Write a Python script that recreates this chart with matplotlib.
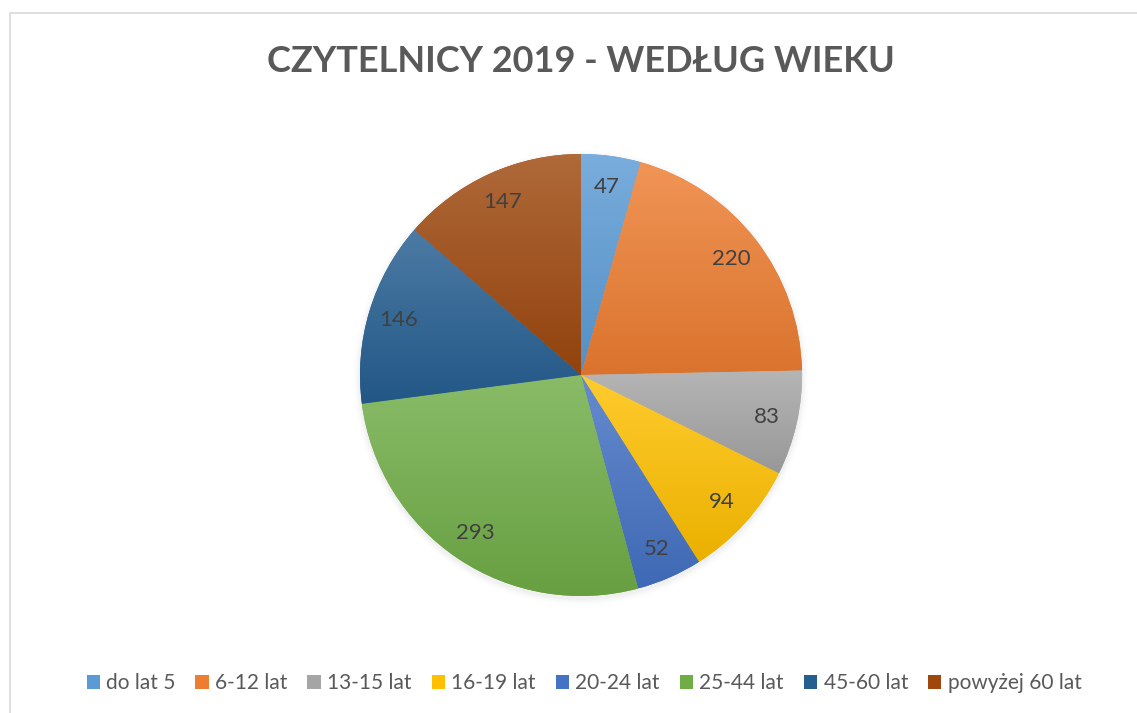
import numpy as np
import matplotlib
matplotlib.use("Agg")
import matplotlib.pyplot as plt
from matplotlib.patches import Patch
from matplotlib.lines import Line2D
from matplotlib.colors import to_rgb

categories = ["do lat 5", "6-12 lat", "13-15 lat", "16-19 lat", "20-24 lat",
              "25-44 lat", "45-60 lat", "powyżej 60 lat"]
values = [47, 220, 83, 94, 52, 293, 146, 147]
colors = ["#5B9BD5", "#ED7D31", "#A5A5A5", "#FFC000", "#4472C4",
          "#70AD47", "#255E91", "#9E480E"]
title = "CZYTELNICY 2019 - WEDŁUG WIEKU"

plt.rcParams['font.family'] = ['Lato', 'DejaVu Sans']

W, H = 1137, 713
fig = plt.figure(figsize=(W / 100, H / 100), dpi=100)
fig.patch.set_facecolor("white")

# frame (top & left visible)
fig.add_artist(Line2D([10 / W, 10 / W, 1], [0, 1 - 13 / H, 1 - 13 / H],
                      transform=fig.transFigure, color="#D9D9D9", lw=1.2))

cx, cy, R = 581, 375, 221
half = R * 1.2
ax = fig.add_axes([(cx - half) / W, (H - cy - half) / H, 2 * half / W, 2 * half / H])
ax.set_xlim(-1.2, 1.2)
ax.set_ylim(-1.2, 1.2)
ax.set_aspect("equal")
ax.axis("off")

# soft shadow
for i, a in enumerate(np.linspace(0.012, 0.003, 8)):
    r = 1.0 + 0.004 * (i + 1)
    circ = plt.Circle((0, -0.012), r, color="black", alpha=a, lw=0, zorder=0)
    ax.add_patch(circ)

wedges, texts = ax.pie(values, colors=colors, startangle=90, counterclock=False,
                       radius=1.0, labels=[str(v) for v in values],
                       labeldistance=0.86,
                       textprops=dict(color="#404040", fontsize=16),
                       wedgeprops=dict(linewidth=0))
ax.set_xlim(-1.2, 1.2)
ax.set_ylim(-1.2, 1.2)

def mix(c, t, f):
    c = np.array(to_rgb(c)); t = np.array(t)
    return c * (1 - f) + t * f

for w, c in zip(wedges, colors):
    ext = w.get_path().get_extents()
    top = mix(c, (1, 1, 1), 0.18)
    bot = mix(c, (0, 0, 0), 0.08)
    n = 256
    f = np.linspace(0, 1, n)[:, None]
    img = top[None, :] * (1 - f) + bot[None, :] * f
    img = img[:, None, :].repeat(2, axis=1)
    im = ax.imshow(img, extent=(ext.x0, ext.x1, ext.y0, ext.y1), origin="upper",
                   aspect="auto", zorder=w.get_zorder() + 0.1, interpolation="bilinear")
    im.set_clip_path(w)
for t in texts:
    t.set_zorder(5)
    t.set_ha("center"); t.set_va("center")

fig.text(581 / W, 1 - 62 / H, title, ha="center", va="center",
         fontsize=26, fontweight="bold", color="#595959")

handles = [Patch(facecolor=c, edgecolor="none") for c in colors]
fig.legend(handles, categories, loc="center", bbox_to_anchor=(584 / W, 1 - 683 / H),
           ncol=8, frameon=False, fontsize=15, labelcolor="#595959",
           handlelength=0.65, handleheight=0.65, handletextpad=0.3, columnspacing=0.95)

fig.savefig("out.png", dpi=100, facecolor="white")
